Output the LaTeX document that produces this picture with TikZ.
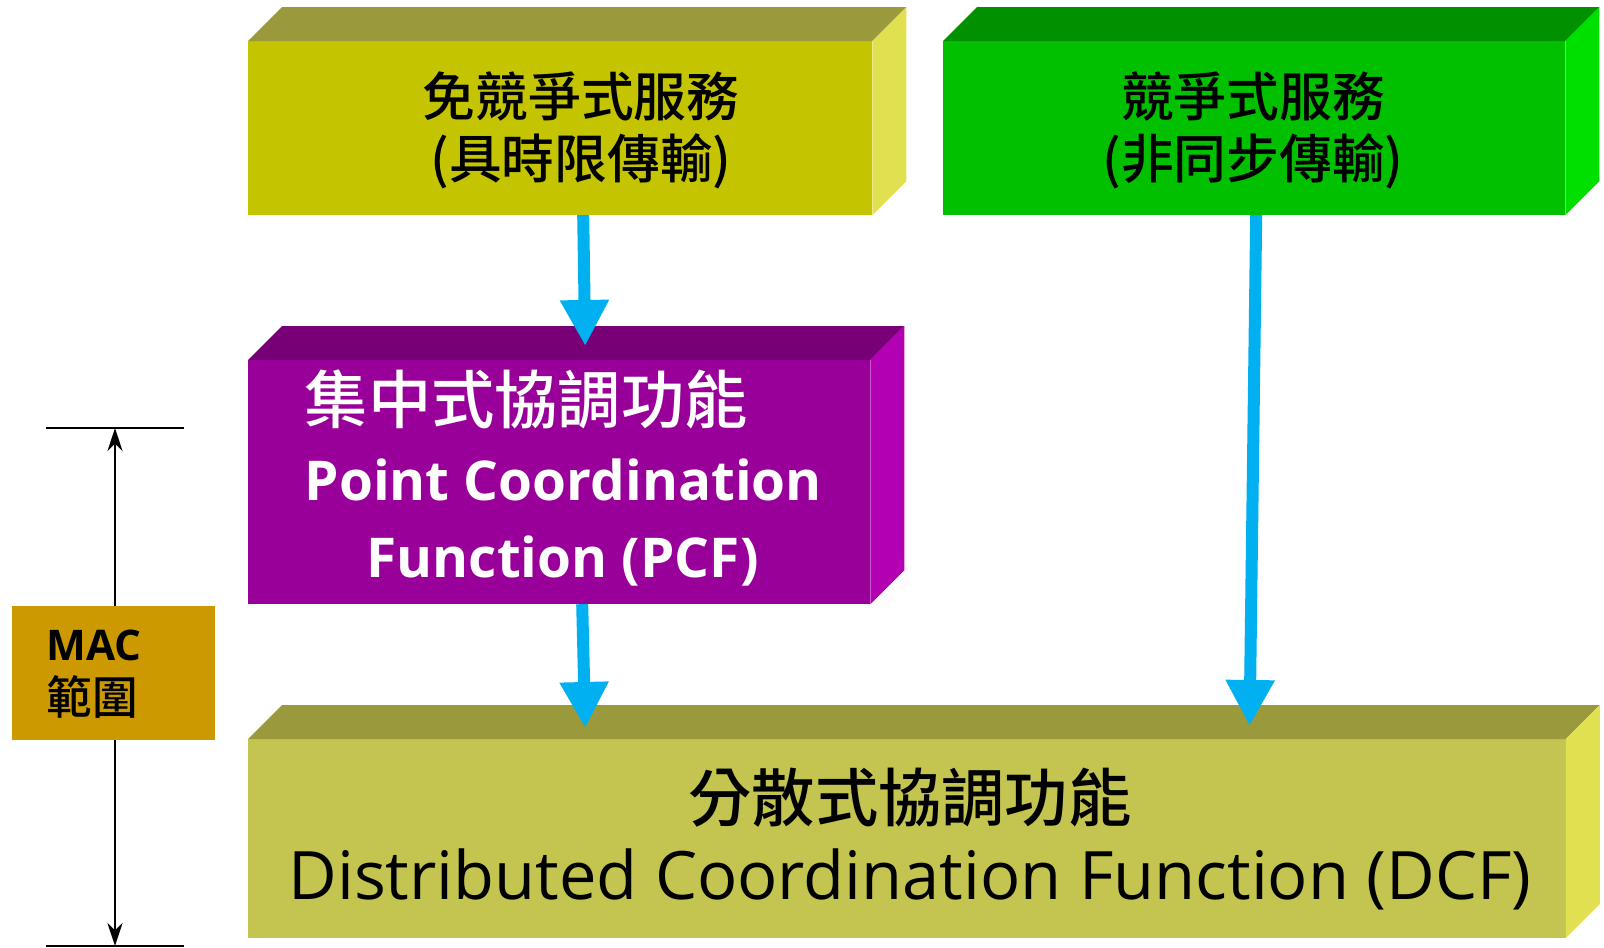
\documentclass[tikz,border=0pt]{standalone}
\usepackage{fontspec}
\setmainfont{Open Sans}
\newfontfamily\cjk{Noto Sans CJK TC}[BoldFont={Noto Sans CJK TC Medium}]
\usetikzlibrary{arrows.meta}

\definecolor{freefront}{RGB}{196,196,0}
\definecolor{oliveside}{RGB}{224,224,80}
\definecolor{olivetop}{RGB}{154,154,60}
\definecolor{contfront}{RGB}{0,192,0}
\definecolor{conttop}{RGB}{0,144,0}
\definecolor{contside}{RGB}{0,224,0}
\definecolor{pcffront}{RGB}{153,0,153}
\definecolor{pcftop}{RGB}{119,0,119}
\definecolor{pcfside}{RGB}{178,0,178}
\definecolor{dcffront}{RGB}{196,196,80}
\definecolor{macfill}{RGB}{204,153,0}
\definecolor{flowblue}{RGB}{0,176,240}

\begin{document}
\begin{tikzpicture}[x=0.01cm,y=-0.01cm]
    \pgfmathsetmacro{\d}{34}	%depth of the boxes
    \tikzset{
        front/.style={anchor=north west, inner sep=0pt, outer sep=0pt},
        flow/.style={draw=flowblue, line width=0.12cm, -{Triangle[width=0.46cm,length=0.46cm]}},
        dim/.style={line width=0.8pt},
        zhbig/.style={font=\cjk\bfseries\fontsize{15}{17.6}\selectfont, align=center}
    };
    \useasboundingbox (0,0) rectangle (1604,947);

    % front faces
    \node[front, fill=freefront, minimum width=6.24cm, minimum height=1.74cm] (free) at (248,41) {};
    \node[front, fill=contfront, minimum width=6.22cm, minimum height=1.74cm] (cont) at (943,41) {};
    \node[front, fill=pcffront, minimum width=6.22cm, minimum height=2.44cm] (pcf) at (248,360) {};
    \node[front, fill=dcffront, minimum width=13.17cm, minimum height=1.99cm] (dcf) at (248,739) {};

    % top and side faces
    \foreach \n/\t/\r in {free/olivetop/oliveside, cont/conttop/contside, pcf/pcftop/pcfside, dcf/olivetop/oliveside}{
        \fill[\t] (\n.north west) -- ++(\d,-\d) -- ([shift={(\d,-\d)}]\n.north east) -- (\n.north east) -- cycle;
        \fill[\r] (\n.north east) -- ++(\d,-\d) -- ([shift={(\d,-\d)}]\n.south east) -- (\n.south east) -- cycle;
    }

    % texts
    \node[zhbig] (freetext) at (581,130) {免競爭式服務\\(具時限傳輸)};
    \node[zhbig] (conttext) at (1253,130) {競爭式服務\\(非同步傳輸)};
    \node[anchor=west, inner sep=0pt, align=left, text=white, font=\bfseries\fontsize{15.6}{22}\selectfont] (pcftext) at (304,478)
        {{\cjk\fontsize{18}{22}\selectfont 集中式協調功能}\\Point Coordination\\\hspace*{0.62cm}Function (PCF)};
    \node[align=center, font=\fontsize{19}{22}\selectfont] (dcftext) at (910,839)
        {{\cjk\bfseries\fontsize{18}{22}\selectfont 分散式協調功能}\\Distributed Coordination Function (DCF)};

    % flows
    \draw[flow] ([xshift=0.23cm]free.south) -- ([xshift=0.26cm,yshift=0.14cm]pcf.north);
    \draw[flow] ([xshift=0.23cm]pcf.south) -- ([xshift=-3.215cm,yshift=0.11cm]dcf.north);
    \draw[flow] ([xshift=0.02cm]cont.south) -- ([xshift=3.425cm,yshift=0.13cm]dcf.north);

    % MAC range
    \coordinate (mactop) at (115,428);
    \coordinate (macbot) at (115,946);
    \draw[dim] (mactop) ++(-69,0) -- ++(138,0);
    \draw[dim] (macbot) ++(-69,0) -- ++(138,0);
    \draw[dim, {Stealth[length=0.23cm,width=0.15cm]}-{Stealth[length=0.23cm,width=0.15cm]}] (mactop) -- (macbot);
    \node[front, fill=macfill, minimum width=2.03cm, minimum height=1.34cm] (mac) at (12,606) {};
    \node[anchor=west, inner sep=0pt, align=left, font=\bfseries\fontsize{12}{15.5}\selectfont] (mactext) at (46,674)
        {MAC\\{\cjk\fontsize{13}{15.5}\selectfont 範圍}};
\end{tikzpicture}
\end{document}
